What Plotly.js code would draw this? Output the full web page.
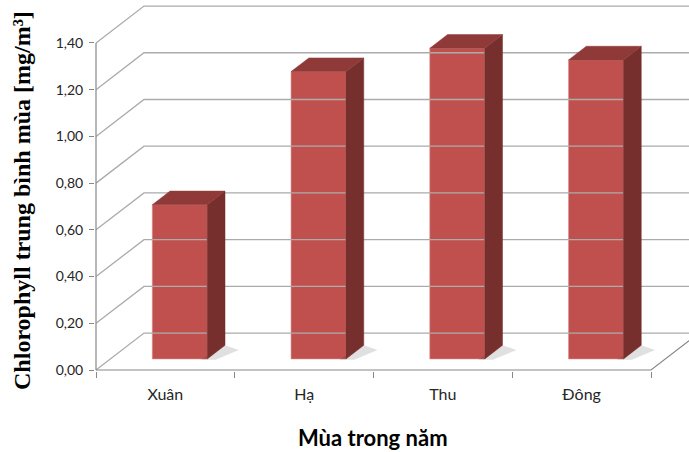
<!DOCTYPE html>
<html>
<head>
<meta charset="utf-8">
<script src="https://cdn.plot.ly/plotly-3.0.1.min.js"></script>
<style>
  html, body { margin: 0; padding: 0; background: #ffffff; }
  #chart { width: 689px; height: 452px; }
</style>
</head>
<body>
<div id="chart"></div>
<script>
// Mean seasonal chlorophyll (mg/m³)
const seasons = ['Xuân', 'Hạ', 'Thu', 'Đông'];
const chlorophyll = [0.66, 1.23, 1.33, 1.28];
const yTicks = [0, 0.2, 0.4, 0.6, 0.8, 1.0, 1.2, 1.4];

// Oblique projection of the 3-D column box onto the 2-D axes.
// A point at depth d (0 = front edge, 1 = back wall) is shifted right by
// DX*d category units and up by DY*d value units.
const DX = 0.346;
const DY = 0.158;
const D_FRONT = 0.30, D_BACK = 0.67;   // depth span of each column
const HALF_W = 0.198;                   // half column width (category units)
const X_MIN = -0.5072, X_MAX = 3.7739;
const Y_MIN = -0.0043, Y_MAX = 1.5839;

const gridColor = '#ababab';
const axisColor = '#888888';
const frontColor = '#c0504d';
const sideColor = '#772f2d';
const topColor = '#8f3a38';

const traces = [];

// Wall gridlines: diagonal on the left wall, then across the back wall.
const gx = [], gy = [];
yTicks.forEach(v => {
  gx.push(-0.5, -0.5 + DX, X_MAX, null);
  gy.push(v, v + DY, v + DY, null);
});
traces.push({x: gx, y: gy, mode: 'lines', hoverinfo: 'skip',
  line: {color: gridColor, width: 1.3}});

// Floor edges: front edge and right-hand diagonal.
traces.push({x: [-0.5, 3.5, 3.5 + DX], y: [0, 0, DY], mode: 'lines', hoverinfo: 'skip',
  line: {color: axisColor, width: 1.2}});
// Front value axis line.
traces.push({x: [-0.5, -0.5], y: [0, yTicks[yTicks.length - 1]], mode: 'lines', hoverinfo: 'skip',
  line: {color: axisColor, width: 1.2}});

// Soft floor shadows behind each column.
seasons.forEach((s, i) => {
  const xr = i + HALF_W + DX * D_FRONT;
  const y0 = DY * D_FRONT;
  traces.push({
    x: [xr - 0.05, xr + 0.06, xr + DX * (D_BACK - D_FRONT) + 0.1, xr + DX * (D_BACK - D_FRONT)],
    y: [y0 - 0.004, y0 - 0.004, y0 + DY * (D_BACK - D_FRONT) - 0.02, y0 + DY * (D_BACK - D_FRONT)],
    mode: 'lines', fill: 'toself', fillcolor: 'rgba(0,0,0,0.12)',
    line: {width: 0}, hoverinfo: 'skip'
  });
});

// Side and top faces of each column.
seasons.forEach((s, i) => {
  const v = chlorophyll[i];
  const xl1 = i - HALF_W + DX * D_FRONT, xr1 = i + HALF_W + DX * D_FRONT;
  const xl2 = i - HALF_W + DX * D_BACK, xr2 = i + HALF_W + DX * D_BACK;
  const b1 = DY * D_FRONT, b2 = DY * D_BACK;
  traces.push({
    x: [xr1, xr2, xr2, xr1, xr1], y: [b1, b2, v + b2, v + b1, b1],
    mode: 'lines', fill: 'toself', fillcolor: sideColor,
    line: {color: sideColor, width: 0.5}, hoverinfo: 'skip'
  });
  traces.push({
    x: [xl1, xr1, xr2, xl2, xl1], y: [v + b1, v + b1, v + b2, v + b2, v + b1],
    mode: 'lines', fill: 'toself', fillcolor: topColor,
    line: {color: topColor, width: 0.5}, hoverinfo: 'skip'
  });
});

// Front faces as real bars, shifted to the depth of the column front.
traces.push({
  type: 'bar',
  x: seasons.map((s, i) => i + DX * D_FRONT),
  y: chlorophyll,
  base: DY * D_FRONT,
  width: 2 * HALF_W,
  marker: {color: frontColor, line: {color: '#d88a88', width: 0.6}},
  customdata: seasons,
  textposition: 'none',
  hovertemplate: '%{customdata}: %{y:.2f}<extra></extra>'
});

const layout = {
  width: 689, height: 452,
  margin: {l: 95, r: 0, t: 0, b: 81},
  paper_bgcolor: '#ffffff', plot_bgcolor: 'rgba(0,0,0,0)',
  showlegend: false,
  separators: ',.',
  font: {family: 'Lato, "Open Sans", sans-serif', color: '#262626', size: 14},
  xaxis: {
    range: [X_MIN, X_MAX], fixedrange: true,
    tickmode: 'array', tickvals: seasons.map((s, i) => i), ticktext: seasons,
    ticks: '', showgrid: false, zeroline: false, showline: false,
    ticklabelstandoff: 12,
    tickfont: {size: 16, color: '#262626'},
    minor: {tickmode: 'array', tickvals: [-0.5, 0.5, 1.5, 2.5, 3.5],
            ticks: 'outside', ticklen: 6, tickcolor: axisColor, tickwidth: 1, showgrid: false}
  },
  yaxis: {
    range: [Y_MIN, Y_MAX], fixedrange: true,
    tickmode: 'array', tickvals: yTicks, tickformat: '.2f',
    ticks: 'outside', ticklen: 5, tickcolor: axisColor, tickwidth: 1,
    ticklabelstandoff: 3,
    showgrid: false, zeroline: false, showline: false,
    tickfont: {size: 14, color: '#262626'}
  },
  annotations: [
    {text: 'Chlorophyll trung bình mùa [mg/m³]', xref: 'paper', yref: 'paper',
     x: -0.1229, y: 0.461, textangle: -90, showarrow: false,
     xanchor: 'center', yanchor: 'middle',
     font: {family: '"Liberation Serif", "DejaVu Serif", serif', size: 24, color: '#000000', weight: 'bold'}},
    {text: '<b>Mùa trong năm</b>', xref: 'paper', yref: 'paper',
     x: 0.468, y: -0.178, showarrow: false, xanchor: 'center', yanchor: 'middle',
     font: {family: 'Lato, "Open Sans", sans-serif', size: 22, color: '#000000'}}
  ]
};

Plotly.newPlot('chart', traces, layout, {displayModeBar: false, staticPlot: true});
</script>
</body>
</html>
